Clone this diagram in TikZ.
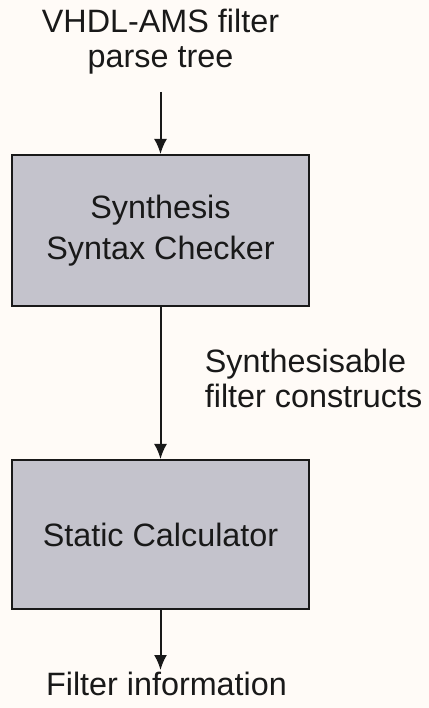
\documentclass[tikz,border=0pt]{standalone}
\usepackage{fontspec}
\setmainfont{Liberation Sans}
\usepackage{tikz}
\usetikzlibrary{arrows.meta, positioning}
\usepackage{xcolor}
\definecolor{paper}{RGB}{255,251,247}
\definecolor{boxgray}{RGB}{196,195,204}
\definecolor{ink}{RGB}{25,25,25}

\begin{document}
\begin{tikzpicture}[
  stage/.style={draw=ink, line width=0.04cm, fill=boxgray, minimum width=5.94cm, minimum height=3.02cm, align=center, text=ink, font=\fontsize{18.4}{23.3}\selectfont},
  flowtext/.style={align=center, text=ink, font=\fontsize{18.4}{19.9}\selectfont},
  flow/.style={-{Latex[length=0.3cm, width=0.26cm]}, line width=0.04cm, draw=ink}
]
  \fill[paper] (0,0) rectangle (8.58,14.16);
  \useasboundingbox (0,0) rectangle (8.58,14.16);
  \node[flowtext, inner sep=0.34cm] (tree) at (3.21,13.32) {VHDL-AMS filter\\parse tree};
  \node[stage] (check) at (3.21,9.55) {Synthesis\\Syntax Checker};
  \node[flowtext, align=left, anchor=west, inner sep=0pt] (cons) at (4.09,6.6) {Synthesisable\\filter constructs};
  \node[stage, minimum height=2.98cm] (calc) at (3.21,3.47) {Static Calculator};
  \node[flowtext, inner sep=1pt] (info) at (3.33,0.48) {Filter information};
  \draw[flow] (tree) -- (check);
  \draw[flow] (check) -- (calc);
  \draw[flow] (calc) -- (calc |- info.north);
\end{tikzpicture}
\end{document}
